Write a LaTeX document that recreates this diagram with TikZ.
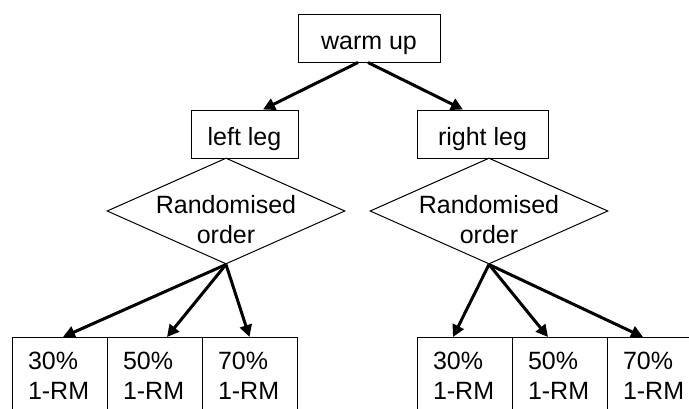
\documentclass[tikz,border=0pt]{standalone}
\usepackage{fontspec}
\setmainfont{Liberation Sans}
\usetikzlibrary{calc, positioning, shapes.geometric, arrows.meta}
\tikzset{
  box/.style={draw, line width=1pt, inner sep=0pt, minimum height=48pt,
    text height=25pt, text depth=3pt, font=\fontsize{25}{30}\selectfont},
  load/.style={draw, line width=1pt, anchor=north west, outer sep=0pt,
    inner xsep=16pt, inner ysep=15pt, text width=63pt, align=left,
    font=\fontsize{25}{30}\selectfont},
  choice/.style={draw, diamond, line width=1pt, inner sep=0pt,
    minimum width=238pt, minimum height=106pt},
  choicetext/.style={align=center, font=\fontsize{25}{30}\selectfont},
  link/.style={line width=3pt, -{Triangle[length=12pt,width=12pt]}}
}

\begin{document}
\begin{tikzpicture}[x=1pt, y=-1pt]
\useasboundingbox (0,0) rectangle (689,408);
\clip (0,0) rectangle (689,408);

\node[box, minimum width=142pt] (warmup) at (369,38) {warm up\hspace{16pt}};
\node[box, minimum width=107pt] (leftleg) at (244.5,134) {left leg\hspace{2pt}};
\node[box, minimum width=131pt] (rightleg) at (482.5,134) {right leg\hspace{9pt}};

% randomised order per leg
\node[choice] (rndL) at (226,211) {};
\node[choicetext] (rndLtext) at (226,220) {Randomised\\order};
\node[choice] (rndR) at (489,211) {};
\node[choicetext] (rndRtext) at (489,220) {Randomised\\order};

% loads, left leg
\node[load] (l30) at (12,337) {30\%\\1-RM};
\node[load, right=0pt of l30] (l50) {50\%\\1-RM};
\node[load, right=0pt of l50] (l70) {70\%\\1-RM};
% loads, right leg
\node[load] (r30) at (417,337) {30\%\\1-RM};
\node[load, right=0pt of r30] (r50) {50\%\\1-RM};
\node[load, right=0pt of r50] (r70) {70\%\\1-RM};

\draw[link] ($(warmup.south)+(-11,0)$) -- ($(leftleg.north)+(18.5,0)$);
\draw[link] ($(warmup.south)+(-1,0)$) -- ($(rightleg.north)+(-19.5,0)$);

\draw[link] (rndL.south) -- ($(l30.north)+(3.5,0)$);
\draw[link] (rndL.south) -- ($(l50.north)+(12.5,0)$);
\draw[link] (rndL.south) -- (l70.north);
\draw[link] (rndR.south) -- ($(r30.north)+(-11.5,0)$);
\draw[link] (rndR.south) -- ($(r50.north)+(-11.5,0)$);
\draw[link] (rndR.south) -- ($(r70.north)+(-11.5,0)$);
\end{tikzpicture}
\end{document}
